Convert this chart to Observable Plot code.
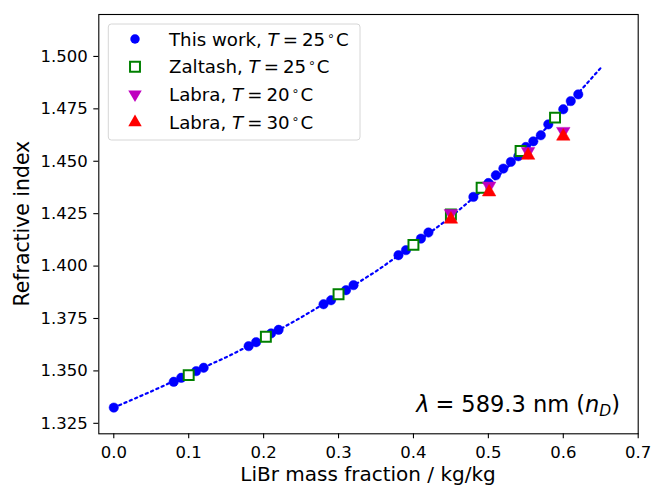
<!DOCTYPE html>
<html><head><meta charset="utf-8">
<script src="https://cdn.jsdelivr.net/npm/d3@7"></script>
<script src="https://cdn.jsdelivr.net/npm/@observablehq/plot@0.6"></script>
<style>
body{margin:0;background:#fff;}
#chart svg{font-family:"DejaVu Sans";}
</style>
</head><body><div id="chart"></div>
<script>
// This work, T = 25 °C
const thisWorkX = [0, 0.08, 0.09, 0.11, 0.12, 0.18, 0.19, 0.21, 0.22, 0.28, 0.29, 0.31, 0.32, 0.38, 0.39, 0.41, 0.42, 0.48, 0.50, 0.51, 0.52, 0.53, 0.54, 0.55, 0.56, 0.57, 0.58, 0.60, 0.61, 0.62];
const thisWorkN = [1.3325, 1.3448, 1.3467, 1.3499, 1.3515, 1.3618, 1.3637, 1.3679, 1.3696, 1.3818, 1.3837, 1.3885, 1.3909, 1.4052, 1.4076, 1.4131, 1.4160, 1.4330, 1.4396, 1.4433, 1.4465, 1.4497, 1.4524, 1.4568, 1.4595, 1.4624, 1.4676, 1.4748, 1.4787, 1.4819];
// Zaltash, T = 25 °C
const zaltashX = [0.100, 0.203, 0.300, 0.400, 0.450, 0.491, 0.543, 0.589];
const zaltashN = [1.3480, 1.3663, 1.3866, 1.4101, 1.4246, 1.4374, 1.4549, 1.4708];
// Labra, T = 20 °C
const labra20X = [0.450, 0.501, 0.553, 0.600];
const labra20N = [1.4251, 1.4382, 1.4547, 1.4643];
// Labra, T = 30 °C
const labra30X = [0.450, 0.501, 0.553, 0.600];
const labra30N = [1.4223, 1.4353, 1.4528, 1.4619];
// Fitted curve
const fitX = [0, 0.05, 0.10, 0.15, 0.20, 0.25, 0.30, 0.35, 0.40, 0.45, 0.50, 0.55, 0.60, 0.65];
const fitN = [1.3325, 1.3402, 1.3484, 1.3565, 1.3655, 1.3755, 1.3862, 1.3975, 1.4100, 1.4235, 1.4385, 1.4555, 1.4745, 1.4945];

const xTicks = [0, 0.1, 0.2, 0.3, 0.4, 0.5, 0.6, 0.7];
const yTicks = [1.325, 1.350, 1.375, 1.400, 1.425, 1.450, 1.475, 1.500];
const xLabel = "LiBr mass fraction / kg/kg";
const yLabel = "Refractive index";
const legendNames = ["This work", "Zaltash", "Labra", "Labra"];
const legendTemps = ["25", "25", "20", "30"];

const zip = (xs, ys) => xs.map((x, i) => ({x, y: ys[i]}));
const tw = zip(thisWorkX, thisWorkN);
const za = zip(zaltashX, zaltashN);
const l20 = zip(labra20X, labra20N);
const l30 = zip(labra30X, labra30N);
const fit = zip(fitX, fitN);

const W = 651, H = 486;
const mL = 98.3, mR = 13.3, mT = 14, mB = 52.7;

const BLUE = "#0000ff", GREEN = "#008000", MAG = "#bf00bf", RED = "#ff0000";

const svg = Plot.plot({
  width: W, height: H,
  marginLeft: mL, marginRight: mR, marginTop: mT, marginBottom: mB,
  style: {fontFamily: "DejaVu Sans", fontSize: "16.5px", color: "#000", background: "#fff"},
  x: {domain: [-0.02, 0.7]},
  y: {domain: [1.32, 1.52]},
  marks: [
    Plot.line(fit, {x: "x", y: "y", stroke: BLUE, strokeWidth: 2.2, strokeDasharray: "2.2,3.6"}),
    Plot.dot(tw, {x: "x", y: "y", r: 4.7, fill: BLUE, stroke: BLUE, strokeWidth: 0.5}),
    Plot.dot(za, {x: "x", y: "y", symbol: "square", r: 5.6, fill: "#fff", stroke: GREEN, strokeWidth: 2}),
    Plot.dot(l20, {x: "x", y: "y", symbol: "triangle", rotate: 180, r: 5, fill: MAG, stroke: MAG, strokeWidth: 0.5}),
    Plot.dot(l30, {x: "x", y: "y", symbol: "triangle", r: 5, fill: RED, stroke: RED, strokeWidth: 0.5}),
    Plot.axisX({ticks: xTicks, tickFormat: d3.format(".1f"), tickSize: 5, tickPadding: 7, label: null, fontSize: "16.5px", stroke: "#000", strokeWidth: 1.1}),
    Plot.axisY({ticks: yTicks, tickFormat: d3.format(".3f"), tickSize: 5, tickPadding: 6, label: null, fontSize: "16.5px", stroke: "#000", strokeWidth: 1.1}),
    Plot.frame({stroke: "#000", strokeWidth: 1.1})
  ]
});
document.getElementById("chart").appendChild(svg);

const s = d3.select(svg);
const FS_LAB = 20;
// Axis labels
s.append("text").attr("x", (mL + W - mR) / 2).attr("y", 481.3)
  .attr("text-anchor", "middle").attr("font-size", FS_LAB).attr("fill", "#000").text(xLabel);
s.append("text").attr("transform", `translate(28.5,${(mT + H - mB) / 2}) rotate(-90)`)
  .attr("text-anchor", "middle").attr("font-size", 20.4).attr("fill", "#000").text(yLabel);

// Legend
const lg = s.append("g");
lg.append("rect").attr("x", 108.3).attr("y", 24).attr("width", 251.7).attr("height", 116)
  .attr("rx", 3).attr("fill", "#fff").attr("fill-opacity", 0.8).attr("stroke", "#d6d6d6").attr("stroke-width", 1);
const rowsY = [39, 66.7, 94.3, 122.3];
const mx = 135;
lg.append("circle").attr("cx", mx).attr("cy", rowsY[0]).attr("r", 4.7).attr("fill", BLUE);
lg.append("path").attr("transform", `translate(${mx},${rowsY[1]})`).attr("d", d3.symbol(d3.symbolSquare, Math.PI * 5.6 * 5.6)())
  .attr("fill", "#fff").attr("stroke", GREEN).attr("stroke-width", 2);
lg.append("path").attr("transform", `translate(${mx},${rowsY[2]}) rotate(180)`).attr("d", d3.symbol(d3.symbolTriangle, Math.PI * 25)())
  .attr("fill", MAG);
lg.append("path").attr("transform", `translate(${mx},${rowsY[3]})`).attr("d", d3.symbol(d3.symbolTriangle, Math.PI * 25)())
  .attr("fill", RED);
legendNames.forEach((name, i) => {
  const t = lg.append("text").attr("x", 169).attr("y", rowsY[i] + 6.7).attr("text-anchor", "start")
    .attr("font-size", 18.2).attr("fill", "#000");
  t.append("tspan").text(name + ", ");
  t.append("tspan").attr("font-style", "italic").text("T");
  t.append("tspan").attr("dx", 4).text("=");
  t.append("tspan").attr("dx", 4).text(legendTemps[i]);
  t.append("tspan").attr("font-size", 12.5).attr("dy", -6).attr("dx", 2).text("∘");
  t.append("tspan").attr("font-size", 18.2).attr("dy", 6).attr("dx", 1).text("C");
});

// Annotation
const an = s.append("text").attr("x", 620).attr("y", 412.3).attr("text-anchor", "end").attr("font-size", 22.5).attr("fill", "#000");
an.append("tspan").attr("font-style", "italic").text("λ");
an.append("tspan").attr("dx", 6).text("=");
an.append("tspan").attr("dx", 7).text("589.3 nm (");
an.append("tspan").attr("font-style", "italic").text("n");
an.append("tspan").attr("font-style", "italic").attr("font-size", 15.5).attr("dy", 3.5).text("D");
an.append("tspan").attr("font-size", 22.5).attr("dy", -3.5).text(")");
</script>
</body></html>
